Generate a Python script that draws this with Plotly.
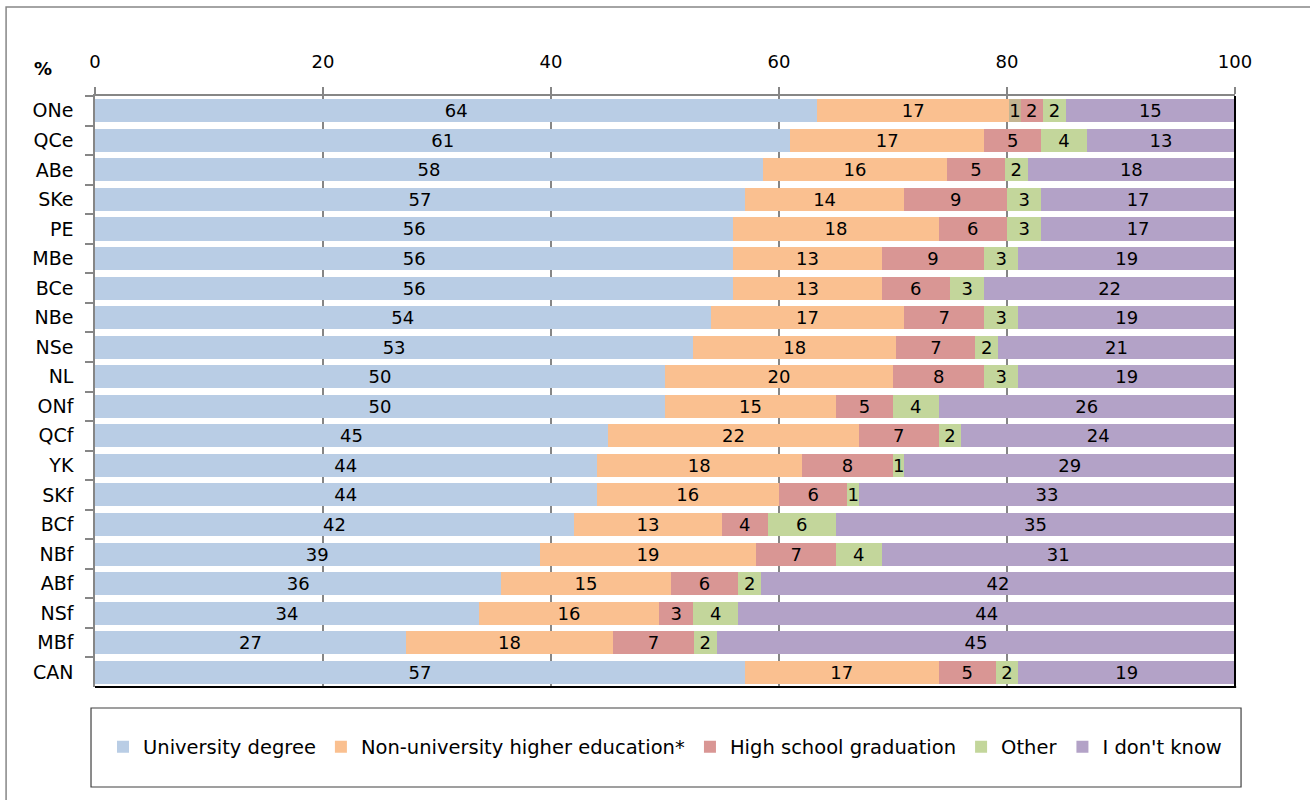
import plotly.graph_objects as go

regions = ["ONe", "QCe", "ABe", "SKe", "PE", "MBe", "BCe", "NBe", "NSe", "NL",
           "ONf", "QCf", "YK", "SKf", "BCf", "NBf", "ABf", "NSf", "MBf", "CAN"]

university = [64, 61, 58, 57, 56, 56, 56, 54, 53, 50, 50, 45, 44, 44, 42, 39, 36, 34, 27, 57]
non_university = [17, 17, 16, 14, 18, 13, 13, 17, 18, 20, 15, 22, 18, 16, 13, 19, 15, 16, 18, 17]
unlabelled_extra = [1, 0, 0, 0, 0, 0, 0, 0, 0, 0, 0, 0, 0, 0, 0, 0, 0, 0, 0, 0]
high_school = [2, 5, 5, 9, 6, 9, 6, 7, 7, 8, 5, 7, 8, 6, 4, 7, 6, 3, 7, 5]
other = [2, 4, 2, 3, 3, 3, 3, 3, 2, 3, 4, 2, 1, 1, 6, 4, 2, 4, 2, 2]
dont_know = [15, 13, 18, 17, 17, 19, 22, 19, 21, 19, 26, 24, 29, 33, 35, 31, 42, 44, 45, 19]

series = [
    ("University degree", university, "#b9cde5", True),
    ("Non-university higher education*", non_university, "#fac090", True),
    ("extra", unlabelled_extra, "#c4b592", False),
    ("High school graduation", high_school, "#d99694", True),
    ("Other", other, "#c3d69b", True),
    ("I don't know", dont_know, "#b3a2c7", True),
]

FONT = "DejaVu Sans"
fig = go.Figure()
for name, vals, color, show in series:
    fig.add_trace(go.Bar(
        y=regions, x=vals, orientation="h", name=name,
        marker=dict(color=color, line=dict(width=0)),
        text=[str(v) if v else "" for v in vals],
        textposition="inside", insidetextanchor="middle", textangle=0,
        textfont=dict(family=FONT, size=18, color="black"),
        showlegend=show, hoverinfo="skip",
    ))

fig.update_layout(
    barmode="stack", barnorm="percent", bargap=0.22,
    width=1310, height=800,
    margin=dict(l=95, r=75, t=96, b=113),
    paper_bgcolor="white", plot_bgcolor="white",
    font=dict(family=FONT, size=18, color="black"),
    uniformtext=dict(minsize=18, mode="show"),
    legend=dict(orientation="h", x=0.5, xanchor="center", y=-0.1015, yanchor="middle",
                font=dict(family=FONT, size=19.5), traceorder="normal", itemwidth=30,
                itemclick=False, bgcolor="rgba(0,0,0,0)"),
    xaxis=dict(side="top", range=[0, 100], dtick=20, tick0=0,
               showgrid=True, gridcolor="#868686", gridwidth=1.5,
               showline=True, linecolor="#868686", linewidth=1.5,
               ticks="outside", ticklen=7, tickcolor="#868686", tickwidth=1.5,
               ticklabelstandoff=12, zeroline=False,
               tickfont=dict(family=FONT, size=18)),
    yaxis=dict(autorange="reversed", showline=True, linecolor="#868686", linewidth=1.5,
               ticks="outside", ticklen=8, tickcolor="#868686", tickwidth=1.5,
               tickson="boundaries", ticklabelstandoff=16, showgrid=False,
               tickfont=dict(family=FONT, size=19)),
    shapes=[
        dict(type="line", xref="paper", yref="paper", x0=0, x1=1.001, y0=0, y1=0,
             line=dict(color="black", width=2)),
        dict(type="line", xref="paper", yref="paper", x0=1, x1=1, y0=0, y1=1,
             line=dict(color="black", width=2)),
        dict(type="rect", xref="paper", yref="paper", x0=-0.0035, x1=1.0053,
             y0=-0.1692, y1=-0.0355, line=dict(color="#404040", width=1.2)),
        dict(type="rect", xref="paper", yref="paper", x0=-0.078, x1=1.3,
             y0=-0.4, y1=1.1506, line=dict(color="#868686", width=1.5)),
    ],
    annotations=[
        dict(text="<b>%</b>", xref="paper", yref="paper", x=-0.046, y=1.047,
             showarrow=False, xanchor="center", yanchor="middle",
             font=dict(family=FONT, size=18, color="black")),
    ],
)

fig.write_html("out.html", config={"displayModeBar": False},
               post_script="document.body.style.margin='0';")
